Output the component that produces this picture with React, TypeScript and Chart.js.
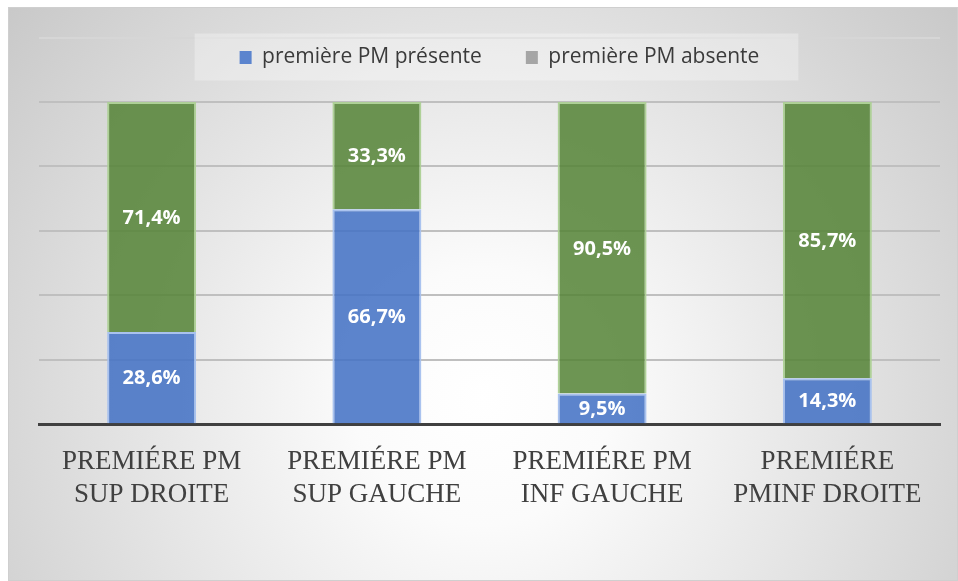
import React, { useEffect, useRef } from 'react';
import { Chart, registerables } from 'chart.js';

Chart.register(...registerables);

const categories: string[][] = [
  ['PREMIÉRE PM', 'SUP DROITE'],
  ['PREMIÉRE PM', 'SUP GAUCHE'],
  ['PREMIÉRE PM', 'INF GAUCHE'],
  ['PREMIÉRE', 'PMINF DROITE'],
];
const presentValues = [28.6, 66.7, 9.5, 14.3];
const absentValues = [71.4, 33.3, 90.5, 85.7];
const seriesNames = ['première PM présente', 'première PM absente'];
const legendColors = ['#5B84CE', '#A5A5A5'];
const yMin = 0;
const yMax = 120;
const yStep = 20;

const fmt = (v: number) => v.toFixed(1).replace('.', ',') + '%';

const LEGEND_HEIGHT = 34.6;

const customPlugin: any = {
  id: 'custom',
  beforeInit(chart: any) {
    const legend = chart.legend;
    if (legend) {
      const fit = legend.fit;
      legend.fit = function () {
        fit.call(this);
        this.height = LEGEND_HEIGHT;
      };
      legend.draw = function () {
        if (!this.options.display) return;
        const hb = this.legendHitBoxes;
        if (hb && hb.length) {
          const ctx = this.ctx;
          const first = hb[0];
          const last = hb[hb.length - 1];
          const cy = first.top + first.height / 2;
          ctx.save();
          ctx.fillStyle = 'rgba(255,255,255,0.3)';
          ctx.fillRect(first.left - 45, cy - 24, last.left + last.width + 39 - (first.left - 45), 47);
          ctx.restore();
        }
        this._draw();
      };
    }
  },
  afterLayout(chart: any) {
    if (chart.legend) {
      chart.legend.left += 10;
      chart.legend.right += 10;
    }
  },
  beforeDraw(chart: any) {
    const { ctx, width, height } = chart;
    ctx.save();
    const cx = width * 0.5;
    const cy = height * 0.68;
    const g = ctx.createRadialGradient(cx, cy, 0, cx, cy, 640);
    g.addColorStop(0, '#ffffff');
    g.addColorStop(0.2, '#fbfbfb');
    g.addColorStop(1, '#c6c6c6');
    ctx.fillStyle = g;
    ctx.fillRect(0, 0, width, height);
    ctx.strokeStyle = '#cfcfcf';
    ctx.lineWidth = 1;
    ctx.strokeRect(0.5, 0.5, width - 1, height - 1);
    ctx.restore();
  },
  afterDatasetsDraw(chart: any) {
    const ctx = chart.ctx;
    ctx.save();
    ctx.fillStyle = '#ffffff';
    ctx.font = 'bold 20px "Open Sans"';
    ctx.textAlign = 'center';
    ctx.textBaseline = 'middle';
    chart.data.datasets.forEach((ds: any, i: number) => {
      const meta = chart.getDatasetMeta(i);
      meta.data.forEach((bar: any, j: number) => {
        const p = bar.getProps(['x', 'y', 'base'], true);
        ctx.fillText(fmt(ds.data[j]), p.x, (p.y + p.base) / 2 + 1);
      });
    });
    ctx.restore();
  },
};

export default function App() {
  const ref = useRef<HTMLCanvasElement>(null);
  useEffect(() => {
    if (!ref.current) return;
    const chart = new Chart(ref.current, {
      type: 'bar',
      data: {
        labels: categories,
        datasets: [
          {
            label: seriesNames[0],
            data: presentValues,
            backgroundColor: 'rgba(68,114,196,0.87)',
            borderColor: 'rgba(165,192,238,0.95)',
            borderWidth: 2,
            barPercentage: 0.395,
            categoryPercentage: 1,
          },
          {
            label: seriesNames[1],
            data: absentValues,
            backgroundColor: 'rgba(84,130,53,0.85)',
            borderColor: 'rgba(172,208,148,0.95)',
            borderWidth: 2,
            barPercentage: 0.395,
            categoryPercentage: 1,
          },
        ],
      },
      options: {
        animation: false,
        responsive: true,
        maintainAspectRatio: false,
        layout: { padding: { top: -4, left: 31, right: 18, bottom: 48 } },
        plugins: {
          tooltip: { enabled: false },
          legend: {
            position: 'top',
            labels: {
              font: { family: '"Open Sans"', size: 21 },
              color: '#3a3a3a',
              boxWidth: 12,
              boxHeight: 13,
              padding: 44,
              generateLabels: () =>
                seriesNames.map((name, i) => ({
                  text: name,
                  fillStyle: legendColors[i],
                  strokeStyle: legendColors[i],
                  lineWidth: 0,
                  hidden: false,
                  datasetIndex: i,
                  fontColor: '#3a3a3a',
                })),
            },
          },
        },
        scales: {
          x: {
            stacked: true,
            grid: { display: false, drawTicks: false },
            border: { display: true, color: '#404040', width: 3 },
            ticks: {
              color: '#404040',
              font: { family: '"Liberation Serif"', size: 27, lineHeight: 1.2 },
              padding: 22,
              maxRotation: 0,
              autoSkip: false,
            },
          },
          y: {
            stacked: true,
            min: yMin,
            max: yMax,
            ticks: { display: false, stepSize: yStep },
            border: { display: false },
            grid: {
              drawTicks: false,
              lineWidth: 2,
              color: (c: any) =>
                c.tick && c.tick.value === yMin
                  ? 'rgba(0,0,0,0)'
                  : c.tick && c.tick.value === yMax
                  ? '#d6d6d6'
                  : '#bfbfbf',
            },
          },
        },
      },
      plugins: [customPlugin],
    } as any);
    return () => chart.destroy();
  }, []);
  return (
    <div style={{ position: 'fixed', left: 8, top: 7, width: 950, height: 574 }}>
      <canvas ref={ref} />
    </div>
  );
}
